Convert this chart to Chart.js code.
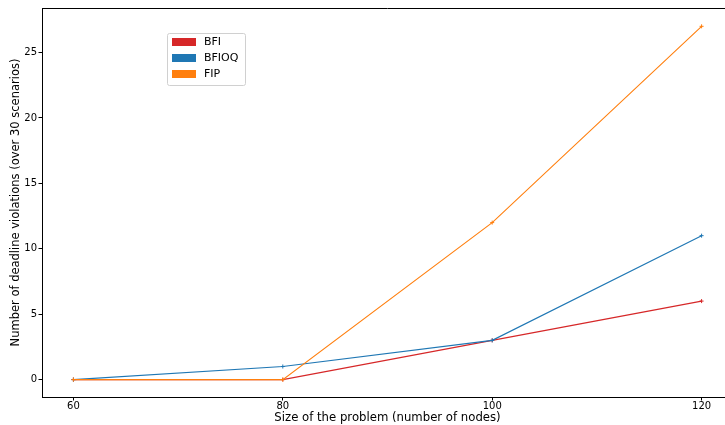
<!DOCTYPE html>
<html><head><meta charset="utf-8">
<script src="https://cdn.jsdelivr.net/npm/chart.js@4/dist/chart.umd.min.js"></script>
<style>
html,body{margin:0;padding:0;background:#fff;overflow:hidden;}
#wrap{width:725px;height:425px;overflow:hidden;position:relative;}
#c{position:absolute;left:0;top:0;}
</style></head>
<body><div id="wrap"><canvas id="c" width="760" height="425" style="width:760px;height:425px"></canvas></div>
<script>
const sizes = [60, 80, 100, 120];
const bfi = [0, 0, 3, 6];
const bfioq = [0, 1, 3, 11];
const fip = [0, 0, 12, 27];
const xTicks = [60, 80, 100, 120];
const yTicks = [0, 5, 10, 15, 20, 25];

const FONT = "'DejaVu Sans', sans-serif";
function pts(arr){ return sizes.map((x,i)=>({x:x,y:arr[i]})); }
function ds(label, arr, color, order){
  return {label, data: pts(arr), borderColor: color, backgroundColor: color,
    borderWidth: 1.1, pointStyle: 'cross', pointRadius: 2, pointBorderWidth: 1,
    pointBorderColor: color, tension: 0, order};
}

const legendPlugin = {
  id: 'boxLegend',
  afterDraw(chart){
    const ctx = chart.ctx;
    const x0 = 167.5, y0 = 33.5, w = 78, h = 52;
    ctx.save();
    ctx.fillStyle = 'rgba(255,255,255,0.8)';
    ctx.strokeStyle = '#d0d0d0';
    ctx.lineWidth = 1;
    ctx.beginPath();
    if (ctx.roundRect) ctx.roundRect(x0, y0, w, h, 2); else ctx.rect(x0,y0,w,h);
    ctx.fill(); ctx.stroke();
    ctx.font = '11px ' + FONT;
    ctx.textBaseline = 'middle';
    chart.data.datasets.forEach((d, i) => {
      const cy = 42 + i * 16;
      ctx.fillStyle = d.borderColor;
      ctx.fillRect(172, cy - 4, 24, 8);
      ctx.fillStyle = '#000';
      ctx.fillText(d.label, 204, cy + 0.5);
    });
    ctx.restore();
  }
};

new Chart(document.getElementById('c'), {
  type: 'line',
  data: { datasets: [
    ds('BFI', bfi, '#d62728', 3),
    ds('BFIOQ', bfioq, '#1f77b4', 2),
    ds('FIP', fip, '#ff7f0e', 1)
  ]},
  options: {
    responsive: false, animation: false, devicePixelRatio: 1,
    layout: { padding: { left: 0, right: 27, top: 8, bottom: 0 } },
    plugins: { legend: { display: false }, tooltip: { enabled: false } },
    scales: {
      x: {
        type: 'linear', min: 57, max: 123,
        afterFit(s){ s.height = 28; },
        afterBuildTicks(s){ s.ticks = xTicks.map(v=>({value:v})); },
        grid: { drawOnChartArea: false, drawTicks: true, tickLength: 3.5, color: '#000', tickColor: '#000' },
        border: { color: '#000', width: 1 },
        ticks: { color: '#000', font: { family: FONT, size: 10 }, padding: 0, maxRotation: 0 },
        title: { display: true, text: 'Size of the problem (number of nodes)', color: '#000',
                 font: { family: FONT, size: 11.7 }, padding: { top: 0, bottom: 0 } }
      },
      y: {
        type: 'linear', min: -1.33, max: 28.4,
        afterFit(s){ s.width = 42; },
        afterBuildTicks(s){ s.ticks = yTicks.map(v=>({value:v})); },
        grid: { drawOnChartArea: false, drawTicks: true, tickLength: 3.5, color: '#000', tickColor: '#000' },
        border: { color: '#000', width: 1 },
        ticks: { color: '#000', font: { family: FONT, size: 10 }, padding: 1.5 },
        title: { display: true, text: 'Number of deadline violations (over 30 scenarios)', color: '#000',
                 font: { family: FONT, size: 11.5 }, padding: { top: 9, bottom: 0 } }
      }
    }
  },
  plugins: [legendPlugin, {
    id: 'topBorder',
    afterDraw(chart){
      const a = chart.chartArea, ctx = chart.ctx;
      ctx.save(); ctx.strokeStyle = '#000'; ctx.lineWidth = 1;
      ctx.beginPath(); ctx.moveTo(a.left, a.top + 0.5); ctx.lineTo(a.right, a.top + 0.5);
      ctx.stroke(); ctx.restore();
    }
  }]
});
</script></body></html>
